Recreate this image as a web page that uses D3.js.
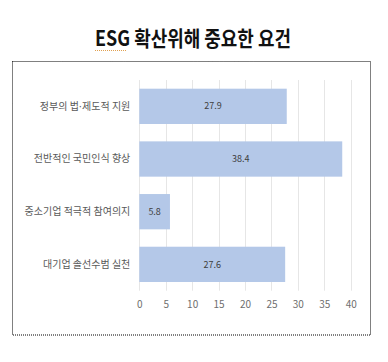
<!DOCTYPE html>
<html>
<head>
<meta charset="utf-8">
<script src="https://cdn.jsdelivr.net/npm/d3@7"></script>
<style>
  body { margin: 0; background: #fff; }
</style>
</head>
<body>
<div id="chart"></div>
<script>
// data
var categories = ["정부의 법·제도적 지원", "전반적인 국민인식 향상", "중소기업 적극적 참여의지", "대기업 솔선수범 실천"];
var values = [27.9, 38.4, 5.8, 27.6];
var xTicks = [0, 5, 10, 15, 20, 25, 30, 35, 40];

var W = 388, H = 362;
var font = "'Noto Sans CJK KR', 'Noto Sans', sans-serif";

var svg = d3.select("#chart").append("svg")
  .attr("width", W).attr("height", H);

// title
svg.append("text")
  .attr("x", 193).attr("y", 46)
  .attr("text-anchor", "middle")
  .attr("font-family", font)
  .attr("font-size", 21)
  .attr("font-weight", "bold")
  .attr("fill", "#111")
  .attr("textLength", 196)
  .attr("lengthAdjust", "spacingAndGlyphs")
  .text("ESG 확산위해 중요한 요건");

// spell-check squiggle under ESG
svg.append("line")
  .attr("x1", 95).attr("x2", 127)
  .attr("y1", 50.5).attr("y2", 50.5)
  .attr("stroke", "#e0a050")
  .attr("stroke-width", 1)
  .attr("stroke-dasharray", "1,1");

// dotted frame
svg.append("rect")
  .attr("x", 12.5).attr("y", 61.5)
  .attr("width", 358).attr("height", 273.5)
  .attr("fill", "none")
  .attr("stroke", "#000")
  .attr("stroke-width", 1)
  .attr("stroke-dasharray", "1,1");

// scales
var x = d3.scaleLinear().domain([0, 40]).range([139.3, 350.7]);
var y = d3.scaleBand().domain(categories).range([80, 290.7])
  .paddingInner(0.33).paddingOuter(0.165);

// gridlines
svg.append("g")
  .selectAll("line")
  .data(xTicks)
  .enter()
  .append("line")
  .attr("x1", d => Math.round(x(d)) + 0.5)
  .attr("x2", d => Math.round(x(d)) + 0.5)
  .attr("y1", 80).attr("y2", 290.7)
  .attr("stroke", "#e6e6e6")
  .attr("stroke-width", 1);

// x axis
var xAxis = svg.append("g")
  .attr("transform", "translate(0,290.7)")
  .call(d3.axisBottom(x).tickValues(xTicks).tickSize(0).tickPadding(10));
xAxis.select(".domain").remove();
xAxis.selectAll("text")
  .attr("font-family", font)
  .attr("font-size", 10)
  .attr("fill", "#6e6e6e");

// y axis labels
var yAxis = svg.append("g")
  .attr("transform", "translate(139.3,0)")
  .call(d3.axisLeft(y).tickSize(0).tickPadding(9));
yAxis.select(".domain").remove();
yAxis.selectAll("text")
  .attr("font-family", font)
  .attr("font-size", 10)
  .attr("fill", "#595959")
  .each(function(d) {
    // narrow middle dot, CJK font draws it full width
    if (d.indexOf("·") < 0) return;
    var t = d3.select(this).text(null);
    var parts = d.split("·");
    t.append("tspan").text(parts[0]);
    t.append("tspan").attr("font-family", "'DejaVu Sans'").text("·");
    t.append("tspan").text(parts[1]);
  });

// bars
svg.selectAll("rect.bar")
  .data(values)
  .enter()
  .append("rect")
  .attr("class", "bar")
  .attr("x", x(0))
  .attr("y", (d, i) => y(categories[i]))
  .attr("width", d => x(d) - x(0))
  .attr("height", y.bandwidth())
  .attr("fill", "#b4c8e8");

// value labels
svg.selectAll("text.val")
  .data(values)
  .enter()
  .append("text")
  .attr("class", "val")
  .attr("x", d => (x(0) + x(d)) / 2)
  .attr("y", (d, i) => y(categories[i]) + y.bandwidth() / 2)
  .attr("dy", "0.35em")
  .attr("text-anchor", "middle")
  .attr("font-family", font)
  .attr("font-size", 9)
  .attr("fill", "#404040")
  .text(d => d.toFixed(1));
</script>
</body>
</html>
